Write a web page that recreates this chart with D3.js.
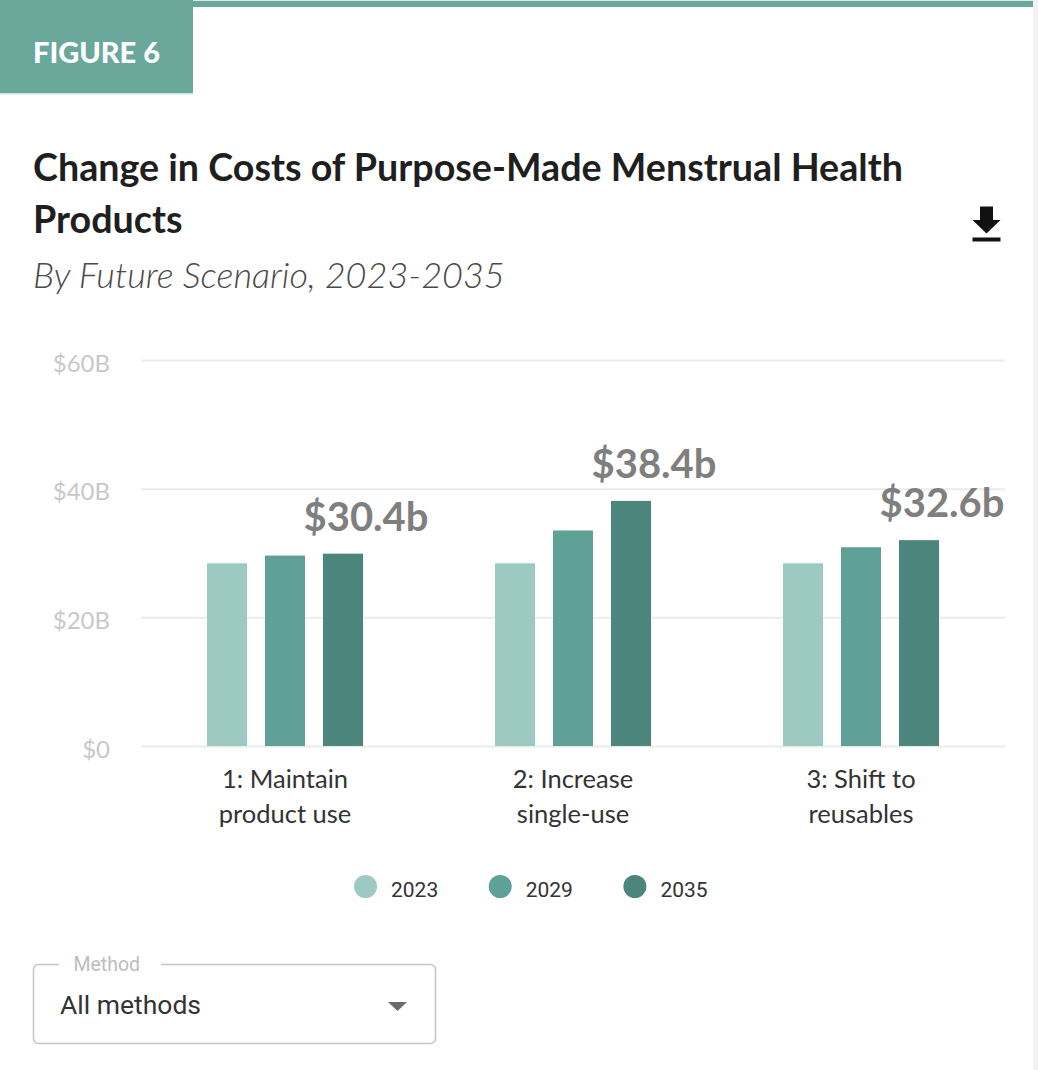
<!DOCTYPE html>
<html>
<head>
<meta charset="utf-8">
<script src="https://cdn.jsdelivr.net/npm/d3@7"></script>
<style>
  html, body { margin: 0; padding: 0; background: #ffffff; }
  svg { display: block; }
</style>
</head>
<body>
<div id="chart"></div>
<script>
// ---------------- DATA ----------------
const categories = [["1: Maintain", "product use"], ["2: Increase", "single-use"], ["3: Shift to", "reusables"]];
const categoryKeys = ["maintain", "increase", "shift"];
const years = ["2023", "2029", "2035"];
const values2023 = [28.4, 28.4, 28.4];
const values2029 = [29.6, 33.5, 30.9];
const values2035 = [29.9, 38.1, 32.0];
const peakLabels = ["$30.4b", "$38.4b", "$32.6b"];
const yTicks = [0, 20, 40, 60];
const yTickLabels = ["$0", "$20B", "$40B", "$60B"];
const yearColors = ["#9ccac3", "#5fa197", "#4c857c"];
const figureLabel = "FIGURE 6";
const titleLines = ["Change in Costs of Purpose-Made Menstrual Health", "Products"];
const subtitle = "By Future Scenario, 2023-2035";
const dropdownLabel = "Method";
const dropdownValue = "All methods";

const seriesValues = [values2023, values2029, values2035];
const rows = categoryKeys.map((k, i) => ({
  key: k, lines: categories[i],
  vals: years.map((y, j) => ({ year: y, value: seriesValues[j][i], color: yearColors[j] })),
  label: peakLabels[i]
}));

// ---------------- SETUP ----------------
const W = 1038, H = 1070;
const svg = d3.select("#chart").append("svg").attr("width", W).attr("height", H);

// helper: font size that makes text reach a target width
function fitSize(text, family, weight, style, targetW, base) {
  const t = svg.append("text").attr("font-family", family).attr("font-weight", weight)
    .attr("font-style", style).attr("font-size", base).text(text);
  const w = t.node().getComputedTextLength();
  t.remove();
  return base * targetW / w;
}

const SANS = "Lato, 'Open Sans', sans-serif";
const ROBOTO = "Roboto, 'Noto Sans', sans-serif";

// ---------------- HEADER ----------------
svg.append("rect").attr("x", 0).attr("y", 0).attr("width", 1033).attr("height", 1).attr("fill", "#d9e9e6");
svg.append("rect").attr("x", 0).attr("y", 1).attr("width", 1033).attr("height", 6).attr("fill", "#6aa89b");
svg.append("rect").attr("x", 0).attr("y", 0).attr("width", 193).attr("height", 93).attr("fill", "#6aa89b");
svg.append("rect").attr("x", 0).attr("y", 93).attr("width", 193).attr("height", 1.5).attr("fill", "#cfe4e0");
svg.append("rect").attr("x", 1033).attr("y", 0).attr("width", 5).attr("height", H).attr("fill", "#f3f3f3");

const figFs = fitSize(figureLabel, SANS, 900, "normal", 127, 30);
svg.append("text").attr("x", 33).attr("y", 62.5)
  .attr("font-family", SANS).attr("font-weight", 900).attr("font-size", figFs)
  .attr("fill", "#ffffff").text(figureLabel);

const titleFs = fitSize(titleLines[0], SANS, 700, "normal", 870, 34);
svg.append("g").selectAll("text").data(titleLines).join("text")
  .attr("x", 33).attr("y", (d, i) => 180.5 + i * 52)
  .attr("font-family", SANS).attr("font-weight", 700).attr("font-size", titleFs)
  .attr("fill", "#1f1f1f").text(d => d);

const subFs = fitSize(subtitle, SANS, 300, "italic", 472, 34);
svg.append("text").attr("x", 33).attr("y", 288)
  .attr("font-family", SANS).attr("font-weight", 300).attr("font-style", "italic")
  .attr("font-size", subFs).attr("fill", "#4a4a4a").text(subtitle);

// download icon
const icon = svg.append("g").attr("fill", "#111");
icon.append("rect").attr("x", 980).attr("y", 206.5).attr("width", 13).attr("height", 14);
icon.append("path").attr("d", "M972.5,220 L1000.5,220 L986.5,233.5 Z");
icon.append("rect").attr("x", 972.5).attr("y", 237.5).attr("width", 28).attr("height", 4);

// ---------------- CHART ----------------
const y = d3.scaleLinear().domain([0, 60]).range([746, 360]);
const x0 = d3.scaleBand().domain(categoryKeys).range([141, 1005]).padding(0);
const groupW = 156;
const x1 = d3.scaleBand().domain(years).range([0, groupW]).paddingInner(0.31).paddingOuter(0);

// grid
const grid = d3.axisLeft(y).tickValues(yTicks).tickSize(-(1005 - 141)).tickFormat("");
const gGrid = svg.append("g").attr("transform", "translate(141,0)").call(grid);
gGrid.select(".domain").remove();
gGrid.selectAll(".tick line").attr("stroke", "#ebebeb").attr("stroke-width", 2);

// y labels
const yAxis = d3.axisLeft(y).tickValues(yTicks).tickSize(0).tickPadding(0)
  .tickFormat((d, i) => yTickLabels[i]);
const gY = svg.append("g").attr("transform", "translate(110,0)").call(yAxis);
gY.select(".domain").remove();
gY.selectAll(".tick text").attr("font-family", SANS).attr("font-size", 24)
  .attr("fill", "#c8c8c8").attr("dy", "0.47em");

// bars
const groups = svg.append("g").selectAll("g").data(rows).join("g")
  .attr("transform", d => `translate(${x0(d.key) + x0.bandwidth() / 2 - groupW / 2},0)`);
groups.selectAll("rect").data(d => d.vals).join("rect")
  .attr("x", d => x1(d.year)).attr("width", x1.bandwidth())
  .attr("y", d => y(d.value)).attr("height", d => y(0) - y(d.value))
  .attr("fill", d => d.color);

// peak labels above the 2035 bar
const lblFs = fitSize(peakLabels[0], SANS, 700, "normal", 125, 40);
groups.append("text")
  .attr("x", d => x1(years[2]) + x1.bandwidth() / 2 + 23)
  .attr("y", d => y(d.vals[2].value) - 23)
  .attr("text-anchor", "middle")
  .attr("font-family", SANS).attr("font-weight", 700).attr("font-size", lblFs)
  .attr("fill", "#7f7f7f").text(d => d.label);

// x axis labels
const xAxis = d3.axisBottom(x0).tickSize(0).tickFormat("");
const gX = svg.append("g").attr("transform", "translate(0,746)").call(xAxis);
gX.select(".domain").remove();
gX.selectAll(".tick").each(function(d, i) {
  const t = d3.select(this).append("text").attr("text-anchor", "middle")
    .attr("font-family", SANS).attr("font-size", 25.5).attr("fill", "#333");
  t.selectAll("tspan").data(rows[i].lines).join("tspan")
    .attr("x", 0).attr("y", (l, k) => 42 + k * 35).text(l => l);
});

// legend
const legend = svg.append("g").selectAll("g").data(years).join("g")
  .attr("transform", (d, i) => `translate(${365.5 + i * 134.7},886.5)`);
legend.append("circle").attr("r", 11.5).attr("fill", (d, i) => yearColors[i]);
legend.append("text").attr("x", 25.5).attr("y", 10)
  .attr("font-family", ROBOTO).attr("font-size", 21).attr("fill", "#333").text(d => d);

// ---------------- DROPDOWN ----------------
const dd = svg.append("g");
dd.append("rect").attr("x", 33.5).attr("y", 964.5).attr("width", 402).attr("height", 79)
  .attr("rx", 5).attr("fill", "#fff").attr("stroke", "#c4c4c4").attr("stroke-width", 1.5);
dd.append("rect").attr("x", 59).attr("y", 962).attr("width", 102).attr("height", 5).attr("fill", "#fff");
dd.append("text").attr("x", 73.5).attr("y", 971).attr("font-family", ROBOTO).attr("font-size", 19.5)
  .attr("fill", "#bdbdbd").text(dropdownLabel);
dd.append("text").attr("x", 60).attr("y", 1013.5).attr("font-family", ROBOTO).attr("font-size", 26.5)
  .attr("fill", "#333").text(dropdownValue);
dd.append("path").attr("d", "M388,1002 L407,1002 L397.5,1011 Z").attr("fill", "#6b6b6b");
</script>
</body>
</html>
